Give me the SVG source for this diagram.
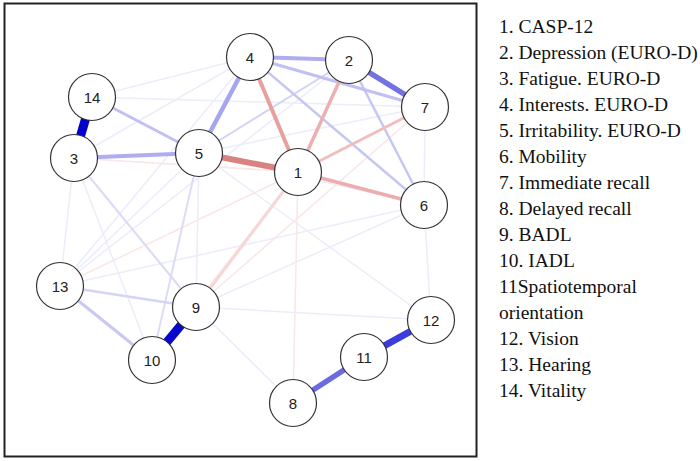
<svg xmlns="http://www.w3.org/2000/svg" width="700" height="461" viewBox="0 0 700 461">
<style>
.node circle{fill:#fff;stroke:#333;stroke-width:1.2}
.node text{font-family:"Liberation Sans",Arial,sans-serif;font-size:15px;fill:#222;text-anchor:middle;dominant-baseline:central}
.e{fill:none;stroke-linecap:butt}
.fb{stroke:#ececfb;stroke-width:1.5}
.fr{stroke:#fae6e6;stroke-width:1.5}
.legend text{font-family:"Liberation Serif","Times New Roman",serif;font-size:19.5px;fill:#111}
</style>
<rect x="4.5" y="3.5" width="472" height="453" fill="#fff" stroke="#222" stroke-width="2"/>
<g id="connectors">
<line class="e fb" x1="92" y1="97" x2="250" y2="57"/>
<line class="e fb" x1="92" y1="97" x2="425" y2="107"/>
<line class="e fb" x1="74" y1="158" x2="250" y2="57"/>
<line class="e fb" x1="74" y1="158" x2="60" y2="286"/>
<line class="e fb" x1="74" y1="158" x2="152" y2="360"/>
<line class="e fb" x1="60" y1="286" x2="199" y2="153"/>
<line class="e fb" x1="60" y1="286" x2="250" y2="57"/>
<line class="e fb" x1="60" y1="286" x2="424" y2="205"/>
<line class="e fb" x1="60" y1="286" x2="349" y2="60"/>
<line class="e fb" x1="199" y1="153" x2="196" y2="307"/>
<line class="e fb" x1="199" y1="153" x2="425" y2="107"/>
<line class="e fb" x1="199" y1="153" x2="424" y2="205"/>
<line class="e fb" stroke="#f2f2fc" x1="199" y1="153" x2="431" y2="320"/>
<line class="e fb" x1="424" y1="205" x2="425" y2="107"/>
<line class="e fb" stroke="#f2f2fc" x1="424" y1="205" x2="431" y2="320"/>
<line class="e fb" x1="196" y1="307" x2="424" y2="205"/>
<line class="e fb" stroke="#f2f2fc" x1="196" y1="307" x2="431" y2="320"/>
<line class="e fb" stroke="#f2f2fc" x1="196" y1="307" x2="293" y2="403"/>
<line class="e fr" x1="74" y1="158" x2="298" y2="172"/>
<line class="e fr" x1="60" y1="286" x2="298" y2="172"/>
<line class="e fr" x1="152" y1="360" x2="298" y2="172"/>
<line class="e fr" x1="293" y1="403" x2="298" y2="172"/>
<line class="e fr" x1="196" y1="307" x2="425" y2="107"/>
<line class="e" stroke="#dcdcf8" stroke-width="2" x1="199" y1="153" x2="152" y2="360"/>
<line class="e" stroke="#dadaf7" stroke-width="2" x1="74" y1="158" x2="196" y2="307"/>
<line class="e" stroke="#d4d4f6" stroke-width="2.5" x1="60" y1="286" x2="196" y2="307"/>
<line class="e" stroke="#c8c8f3" stroke-width="3" x1="60" y1="286" x2="152" y2="360"/>
<line class="e" stroke="#f6d6d6" stroke-width="3" x1="298" y1="172" x2="196" y2="307"/>
<line class="e" stroke="#d2d2f6" stroke-width="2" x1="349" y1="60" x2="199" y2="153"/>
<line class="e" stroke="#c6c6f3" stroke-width="2.5" x1="250" y1="57" x2="424" y2="205"/>
<line class="e" stroke="#c6c6f3" stroke-width="2.5" x1="349" y1="60" x2="424" y2="205"/>
<line class="e" stroke="#c0c0f4" stroke-width="3" x1="250" y1="57" x2="425" y2="107"/>
<line class="e" stroke="#c0c0f4" stroke-width="3" x1="92" y1="97" x2="199" y2="153"/>
<line class="e" stroke="#adadf0" stroke-width="4" x1="74" y1="158" x2="199" y2="153"/>
<line class="e" stroke="#adadf0" stroke-width="4" x1="250" y1="57" x2="349" y2="60"/>
<line class="e" stroke="#a6a6ef" stroke-width="4.5" x1="250" y1="57" x2="199" y2="153"/>
<line class="e" stroke="#f2bdbd" stroke-width="3" x1="298" y1="172" x2="425" y2="107"/>
<line class="e" stroke="#ebadad" stroke-width="3.5" x1="298" y1="172" x2="424" y2="205"/>
<line class="e" stroke="#ebb0b0" stroke-width="3.5" x1="298" y1="172" x2="349" y2="60"/>
<line class="e" stroke="#e6a0a0" stroke-width="4" x1="298" y1="172" x2="250" y2="57"/>
<line class="e" stroke="#d98282" stroke-width="6" x1="298" y1="172" x2="199" y2="153"/>
<line class="e" stroke="#7272e2" stroke-width="5.5" x1="349" y1="60" x2="425" y2="107"/>
<line class="e" stroke="#6a6ae2" stroke-width="5.5" x1="293" y1="403" x2="364" y2="357"/>
<line class="e" stroke="#3c3cdc" stroke-width="7" x1="364" y1="357" x2="431" y2="320"/>
<line class="e" stroke="#0000cc" stroke-width="9" x1="92" y1="97" x2="74" y2="158"/>
<line class="e" stroke="#0808cc" stroke-width="9" x1="196" y1="307" x2="152" y2="360"/>
</g>
<g id="node1" class="node"><circle cx="298" cy="172" r="23.5"/><text x="298" y="172">1</text></g>
<g id="node2" class="node"><circle cx="349" cy="60" r="23.5"/><text x="349" y="60">2</text></g>
<g id="node3" class="node"><circle cx="74" cy="158" r="23.5"/><text x="74" y="158">3</text></g>
<g id="node4" class="node"><circle cx="250" cy="57" r="23.5"/><text x="250" y="57">4</text></g>
<g id="node5" class="node"><circle cx="199" cy="153" r="23.5"/><text x="199" y="153">5</text></g>
<g id="node6" class="node"><circle cx="424" cy="205" r="23.5"/><text x="424" y="205">6</text></g>
<g id="node7" class="node"><circle cx="425" cy="107" r="23.5"/><text x="425" y="107">7</text></g>
<g id="node8" class="node"><circle cx="293" cy="403" r="23.5"/><text x="293" y="403">8</text></g>
<g id="node9" class="node"><circle cx="196" cy="307" r="23.5"/><text x="196" y="307">9</text></g>
<g id="node10" class="node"><circle cx="152" cy="360" r="23.5"/><text x="152" y="360">10</text></g>
<g id="node11" class="node"><circle cx="364" cy="357" r="23.5"/><text x="364" y="357">11</text></g>
<g id="node12" class="node"><circle cx="431" cy="320" r="23.5"/><text x="431" y="320">12</text></g>
<g id="node13" class="node"><circle cx="60" cy="286" r="23.5"/><text x="60" y="286">13</text></g>
<g id="node14" class="node"><circle cx="92" cy="97" r="23.5"/><text x="92" y="97">14</text></g>
<g id="legend" class="legend">
<text x="499" y="33.3">1. CASP-12</text>
<text x="499" y="59.3">2. Depression (EURO-D)</text>
<text x="499" y="85.3">3. Fatigue. EURO-D</text>
<text x="499" y="111.3">4. Interests. EURO-D</text>
<text x="499" y="137.3">5. Irritability. EURO-D</text>
<text x="499" y="163.3">6. Mobility</text>
<text x="499" y="189.3">7. Immediate recall</text>
<text x="499" y="215.3">8. Delayed recall</text>
<text x="499" y="241.3">9. BADL</text>
<text x="499" y="267.3">10. IADL</text>
<text x="499" y="293.3">11Spatiotemporal</text>
<text x="499" y="319.3">orientation</text>
<text x="499" y="345.3">12. Vision</text>
<text x="499" y="371.3">13. Hearing</text>
<text x="499" y="397.3">14. Vitality</text>
</g>
</svg>
